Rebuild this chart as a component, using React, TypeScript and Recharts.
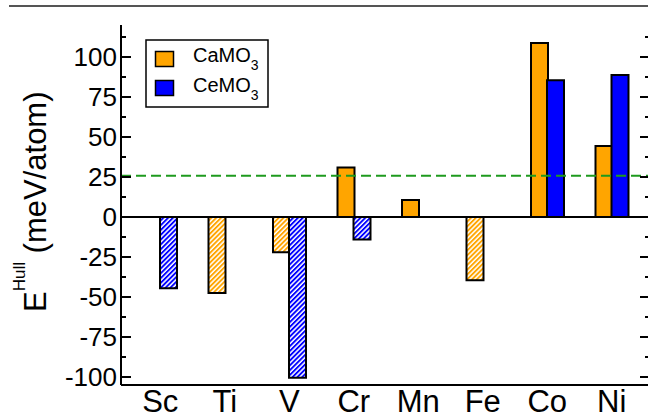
import React from 'react';
import { BarChart, Bar, XAxis, YAxis, ReferenceLine, Legend, Cell } from 'recharts';

// Energy above the convex hull (meV/atom) for CaMO3 and CeMO3 perovskites
const elements = ['Sc', 'Ti', 'V', 'Cr', 'Mn', 'Fe', 'Co', 'Ni'];
const caValues: (number | null)[] = [null, -47.5, -22, 31, 10.7, -39.5, 108.7, 44.3];
const ceValues: (number | null)[] = [-44.5, null, -100.5, -14, null, null, 85.5, 88.8];
const majorTicks = [-100, -75, -50, -25, 0, 25, 50, 75, 100];
const minorTicks = [-87.5, -62.5, -37.5, -12.5, 12.5, 37.5, 62.5, 87.5, 112.5];
const yDomain: [number, number] = [-105, 120];
const thermalEnergy = 25.85; // kT at room temperature

const ORANGE = '#FFA500';
const BLUE = '#0000FF';
const FONT = '"Liberation Sans", Arial, Helvetica, sans-serif';

const data = elements.map((name, i) => ({ name, ca: caValues[i], ce: ceValues[i] }));
const allTicks = [...majorTicks, ...minorTicks].sort((a, b) => a - b);

// Frame edges of the plotting area (left axis x, right frame x)
const FRAME_LEFT = 121;
const FRAME_RIGHT = 650;

// Left-axis tick: value label outside, inward marks on both frame edges
const FrameTick = (props: any) => {
  const { y, payload } = props;
  const value: number = payload.value;
  const major = majorTicks.includes(value);
  const len = major ? 10 : 5;
  return (
    <g>
      <line x1={FRAME_LEFT} x2={FRAME_LEFT + len} y1={y} y2={y} stroke="#000" strokeWidth={2} />
      <line x1={FRAME_RIGHT - len} x2={FRAME_RIGHT} y1={y} y2={y} stroke="#000" strokeWidth={2} />
      {major && (
        <text x={FRAME_LEFT - 4} y={y} dy="0.355em" textAnchor="end" fontFamily={FONT} fontSize={26} fill="#000">
          {value}
        </text>
      )}
    </g>
  );
};

const AxisTitle = () => (
  <text
    x={46}
    y={312}
    transform="rotate(-90, 46, 312)"
    textAnchor="start"
    fontFamily={FONT}
    fontSize={31}
    fill="#000"
  >
    E
    <tspan dy={-21} fontSize={17}>Hull</tspan>
    <tspan dy={21} fontSize={31}> (meV/atom)</tspan>
  </text>
);

const LegendBox = () => (
  <svg width={124} height={70} style={{ display: 'block' }}>
    <rect x={1} y={1} width={122} height={67} fill="#fff" stroke="#000" strokeWidth={1.5} />
    <rect x={10.5} y={12.5} width={18} height={15} fill={ORANGE} stroke="#000" strokeWidth={1.5} />
    <text x={48} y={23} fontFamily={FONT} fontSize={20} fill="#000">
      CaMO<tspan dy={8} fontSize={14}>3</tspan>
    </text>
    <rect x={10.5} y={41.5} width={18} height={15} fill={BLUE} stroke="#000" strokeWidth={1.5} />
    <text x={48} y={52.7} fontFamily={FONT} fontSize={20} fill="#000">
      CeMO<tspan dy={8} fontSize={14}>3</tspan>
    </text>
  </svg>
);

export default function App() {
  return (
    <div style={{ position: 'absolute', left: 0, top: 0, width: 648, height: 416, overflow: 'hidden', background: '#fff' }}>
      <div style={{ position: 'absolute', left: 9, top: 5, width: 639, height: 2, background: '#555' }} />
      <BarChart
        width={660}
        height={416}
        data={data}
        margin={{ top: 25, right: 10, bottom: 0, left: 0 }}
        barSize={17}
        barGap={-1}
      >
        <defs>
          <pattern id="hatchOrange" width={3.4} height={3.4} patternUnits="userSpaceOnUse" patternTransform="rotate(45)">
            <rect width={3.4} height={3.4} fill="#fff" />
            <rect width={1.9} height={3.4} fill={ORANGE} />
          </pattern>
          <pattern id="hatchBlue" width={3.4} height={3.4} patternUnits="userSpaceOnUse" patternTransform="rotate(45)">
            <rect width={3.4} height={3.4} fill="#fff" />
            <rect width={1.9} height={3.4} fill={BLUE} />
          </pattern>
        </defs>
        <XAxis
          dataKey="name"
          type="category"
          interval={0}
          padding={{ left: 7, right: 6 }}
          height={31}
          tickLine={false}
          tickSize={5}
          tickMargin={0}
          axisLine={{ stroke: '#000', strokeWidth: 2 }}
          tick={{ fontSize: 31, fill: '#000', fontFamily: FONT }}
        />
        <XAxis
          xAxisId="top"
          orientation="top"
          dataKey="name"
          height={0}
          tick={false}
          tickLine={false}
          axisLine={{ stroke: '#000', strokeWidth: 2 }}
        />
        <YAxis
          yAxisId="v"
          type="number"
          domain={yDomain}
          allowDataOverflow
          ticks={allTicks}
          interval={0}
          width={121}
          tickLine={false}
          tickSize={4}
          tickMargin={0}
          axisLine={{ stroke: '#000', strokeWidth: 2 }}
          tick={FrameTick}
          label={AxisTitle}
        />
        <YAxis
          yAxisId="frameRight"
          orientation="right"
          type="number"
          domain={yDomain}
          allowDataOverflow
          width={0}
          tick={false}
          tickLine={false}
          axisLine={{ stroke: '#000', strokeWidth: 2 }}
        />
        <Legend
          layout="vertical"
          align="center"
          verticalAlign="middle"
          content={LegendBox}
          wrapperStyle={{ position: 'absolute', left: 145, top: 39, width: 124, height: 70 }}
        />
        <ReferenceLine y={0} yAxisId="v" stroke="#000" strokeWidth={2} />
        <Bar dataKey="ca" name="CaMO3" yAxisId="v" stroke="#000" strokeWidth={2} isAnimationActive={false}>
          {data.map((d, i) => (
            <Cell key={`ca-${i}`} fill={d.ca !== null && d.ca < 0 ? 'url(#hatchOrange)' : ORANGE} />
          ))}
        </Bar>
        <Bar dataKey="ce" name="CeMO3" yAxisId="v" stroke="#000" strokeWidth={2} isAnimationActive={false}>
          {data.map((d, i) => (
            <Cell key={`ce-${i}`} fill={d.ce !== null && d.ce < 0 ? 'url(#hatchBlue)' : BLUE} />
          ))}
        </Bar>
        <ReferenceLine
          y={thermalEnergy}
          yAxisId="v"
          stroke="#1E9A1E"
          strokeWidth={2}
          strokeDasharray="10 5"
        />
      </BarChart>
    </div>
  );
}
